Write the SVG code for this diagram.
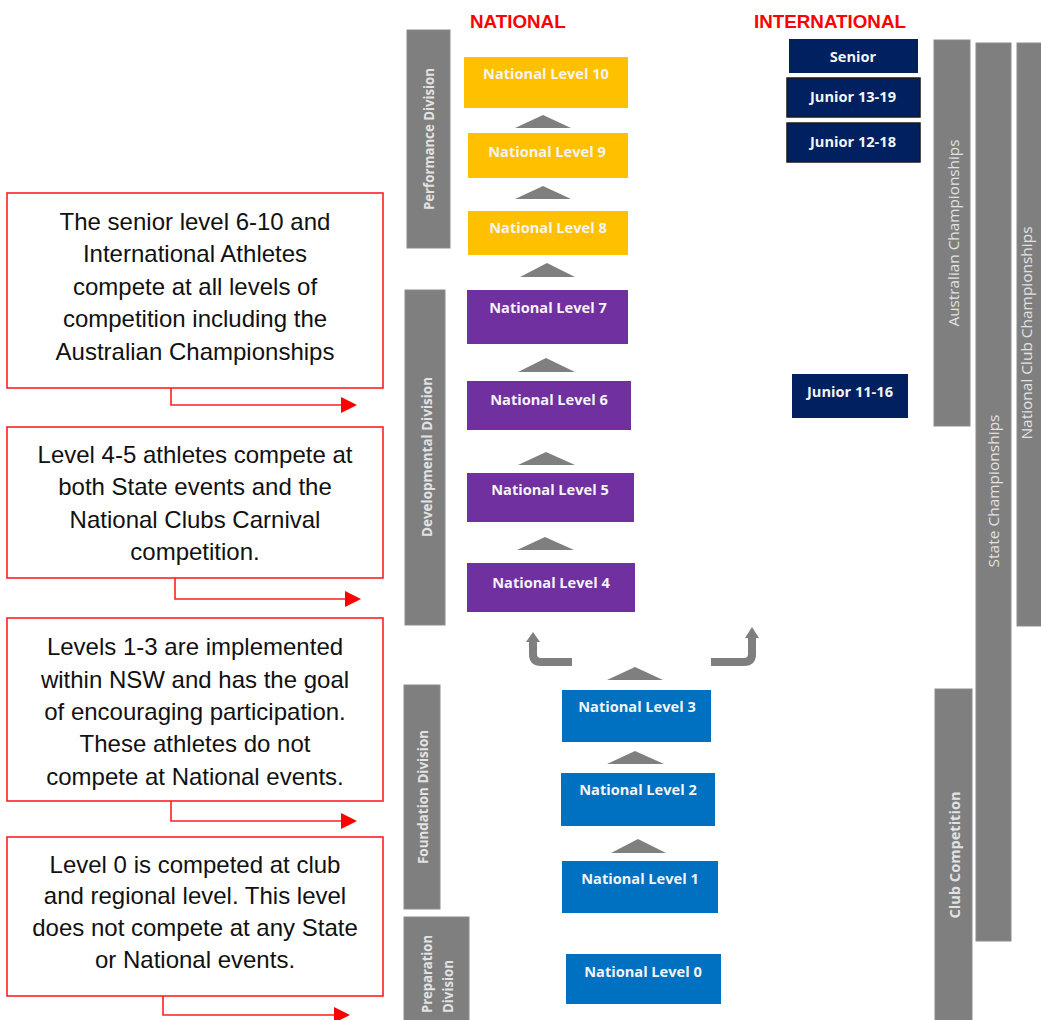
<svg xmlns="http://www.w3.org/2000/svg" width="1041" height="1020" viewBox="0 0 1041 1020">
<style>
.bg{fill:#ffffff}
.bar{fill:#7f7f7f;stroke:#8c8c8c;stroke-width:1}
.barT{font-family:"Open Sans","Liberation Sans",sans-serif;font-size:14px;fill:#e2e2e2}
.barB{font-family:"Open Sans","Liberation Sans",sans-serif;font-size:14px;font-weight:700;fill:#e2e2e2}
.yel{fill:#FFC000}
.pur{fill:#7030A0}
.blu{fill:#0070C0}
.nav{fill:#002060}
.navb{fill:#002060;stroke:#1a1a1a;stroke-width:1.5}
.lbl{font-family:"Open Sans","Liberation Sans",sans-serif;font-size:14.6px;font-weight:700;fill:#f4f4f4;text-anchor:middle}
.tri{fill:#7f7f7f}
.hdr{font-family:"Liberation Sans",Arial,sans-serif;font-size:18.8px;font-weight:700;fill:#FF0000}
.call{fill:#ffffff;stroke:#FF2020;stroke-width:1.6}
.ct{font-family:"Liberation Sans",Arial,sans-serif;font-size:24px;fill:#111111;text-anchor:middle}
.rl{fill:none;stroke:#FF2020;stroke-width:1.6}
.rh{fill:#FF0000}
.bend{fill:none;stroke:#7f7f7f;stroke-width:8}
</style>
<rect class="bg" x="0" y="0" width="1041" height="1020"/>

<g id="headers">
<text class="hdr" x="470" y="28">NATIONAL</text>
<text class="hdr" x="754" y="28">INTERNATIONAL</text>
</g>

<g id="performance-division">
<rect class="bar" x="407" y="30" width="43" height="218"/>
<text class="barB" transform="translate(434,139) rotate(-90)" text-anchor="middle" textLength="142" lengthAdjust="spacingAndGlyphs">Performance Division</text>
</g>
<g id="developmental-division">
<rect class="bar" x="405" y="290" width="40" height="335"/>
<text class="barB" transform="translate(432,457) rotate(-90)" text-anchor="middle" textLength="160" lengthAdjust="spacingAndGlyphs">Developmental Division</text>
</g>
<g id="foundation-division">
<rect class="bar" x="404" y="685" width="36" height="224"/>
<text class="barB" transform="translate(428,797) rotate(-90)" text-anchor="middle" textLength="134" lengthAdjust="spacingAndGlyphs">Foundation Division</text>
</g>
<g id="preparation-division">
<rect class="bar" x="404" y="917" width="65" height="110"/>
<text class="barB" transform="translate(432,1013) rotate(-90)" textLength="78" lengthAdjust="spacingAndGlyphs">Preparation</text>
<text class="barB" transform="translate(453,1013) rotate(-90)" textLength="53" lengthAdjust="spacingAndGlyphs">Division</text>
</g>

<g id="level-10"><rect class="yel" x="464" y="57" width="164" height="51"/><text class="lbl" x="546" y="79">National Level 10</text></g>
<g id="level-9"><rect class="yel" x="468" y="133" width="160" height="45"/><text class="lbl" x="547" y="157">National Level 9</text></g>
<g id="level-8"><rect class="yel" x="468" y="211" width="160" height="44"/><text class="lbl" x="548" y="233">National Level 8</text></g>
<g id="level-7"><rect class="pur" x="467" y="290" width="161" height="54"/><text class="lbl" x="548" y="313">National Level 7</text></g>
<g id="level-6"><rect class="pur" x="467" y="381" width="164" height="49"/><text class="lbl" x="549" y="405">National Level 6</text></g>
<g id="level-5"><rect class="pur" x="467" y="473" width="167" height="49"/><text class="lbl" x="550" y="495">National Level 5</text></g>
<g id="level-4"><rect class="pur" x="467" y="563" width="168" height="49"/><text class="lbl" x="551" y="588">National Level 4</text></g>
<g id="level-3"><rect class="blu" x="562" y="690" width="149" height="52"/><text class="lbl" x="637" y="712">National Level 3</text></g>
<g id="level-2"><rect class="blu" x="561" y="773" width="154" height="53"/><text class="lbl" x="638" y="795">National Level 2</text></g>
<g id="level-1"><rect class="blu" x="562" y="861" width="156" height="52"/><text class="lbl" x="640" y="884">National Level 1</text></g>
<g id="level-0"><rect class="blu" x="566" y="954" width="155" height="50"/><text class="lbl" x="643" y="977">National Level 0</text></g>

<g id="senior"><rect class="nav" x="789" y="39" width="129" height="34"/><text class="lbl" x="853" y="62">Senior</text></g>
<g id="junior-13-19"><rect class="navb" x="787" y="78" width="133" height="39"/><text class="lbl" x="853" y="102">Junior 13-19</text></g>
<g id="junior-12-18"><rect class="navb" x="787" y="123" width="133" height="39"/><text class="lbl" x="853" y="147">Junior 12-18</text></g>
<g id="junior-11-16"><rect class="nav" x="792" y="374" width="116" height="44"/><text class="lbl" x="850" y="397">Junior 11-16</text></g>

<g id="australian-championships">
<rect class="bar" x="934" y="40" width="36" height="386"/>
<text class="barT" transform="translate(959,233) rotate(-90)" text-anchor="middle" textLength="187" lengthAdjust="spacingAndGlyphs">Australian Championships</text>
</g>
<g id="state-championships">
<rect class="bar" x="976" y="43" width="35" height="898"/>
<text class="barT" transform="translate(999,491) rotate(-90)" text-anchor="middle" textLength="153" lengthAdjust="spacingAndGlyphs">State Championships</text>
</g>
<g id="national-club-championships">
<rect class="bar" x="1017" y="43" width="40" height="583"/>
<text class="barT" transform="translate(1032,333) rotate(-90)" text-anchor="middle" textLength="213" lengthAdjust="spacingAndGlyphs">National Club Championships</text>
</g>
<g id="club-competition">
<rect class="bar" x="935" y="689" width="37" height="340"/>
<text class="barB" transform="translate(960,855) rotate(-90)" text-anchor="middle" textLength="127" lengthAdjust="spacingAndGlyphs">Club Competition</text>
</g>

<g id="callout-1">
<rect class="call" x="7" y="193" width="376" height="195"/>
<text class="ct" x="195" y="230">The senior level 6-10 and</text>
<text class="ct" x="195" y="262">International Athletes</text>
<text class="ct" x="195" y="295">compete at all levels of</text>
<text class="ct" x="195" y="327">competition including the</text>
<text class="ct" x="195" y="360">Australian Championships</text>
</g>
<g id="callout-2">
<rect class="call" x="7" y="427" width="376" height="151"/>
<text class="ct" x="195" y="463">Level 4-5 athletes compete at</text>
<text class="ct" x="195" y="495">both State events and the</text>
<text class="ct" x="195" y="528">National Clubs Carnival</text>
<text class="ct" x="195" y="560">competition.</text>
</g>
<g id="callout-3">
<rect class="call" x="7" y="618" width="376" height="183"/>
<text class="ct" x="195" y="655">Levels 1-3 are implemented</text>
<text class="ct" x="195" y="688">within NSW and has the goal</text>
<text class="ct" x="195" y="720">of encouraging participation.</text>
<text class="ct" x="195" y="752">These athletes do not</text>
<text class="ct" x="195" y="785">compete at National events.</text>
</g>
<g id="callout-4">
<rect class="call" x="7" y="837" width="376" height="159"/>
<text class="ct" x="195" y="873">Level 0 is competed at club</text>
<text class="ct" x="195" y="904">and regional level. This level</text>
<text class="ct" x="195" y="936">does not compete at any State</text>
<text class="ct" x="195" y="968">or National events.</text>
</g>

<g id="connectors">
<polygon class="tri" points="515,128 543,115 571,128"/>
<polygon class="tri" points="515,199 543,186 571,199"/>
<polygon class="tri" points="520,277 547,263 575,277"/>
<polygon class="tri" points="518,372 546,358 575,372"/>
<polygon class="tri" points="518,465 546,452 575,465"/>
<polygon class="tri" points="517,550 545,537 574,550"/>
<polygon class="tri" points="607,680 635,667 663,680"/>
<polygon class="tri" points="607,764 635,751 664,764"/>
<polygon class="tri" points="611,853 638,839 666,853"/>
<path class="bend" d="M572,662 H541 Q533,662 533,654 V641"/>
<polygon class="tri" points="526,642 533,632 540,642"/>
<path class="bend" d="M711,662 H744 Q752,662 752,654 V637"/>
<polygon class="tri" points="745,638 752,627 759,638"/>

<path class="rl" d="M171,388 V405 H342"/>
<polygon class="rh" points="341,397 357,405 341,413"/>
<path class="rl" d="M175,578 V599 H346"/>
<polygon class="rh" points="345,591 361,599 345,607"/>
<path class="rl" d="M171,801 V821 H342"/>
<polygon class="rh" points="341,813 357,821 341,829"/>
<path class="rl" d="M163,996 V1015 H335"/>
<polygon class="rh" points="334,1007 350,1015 334,1023"/>
</g>
</svg>
